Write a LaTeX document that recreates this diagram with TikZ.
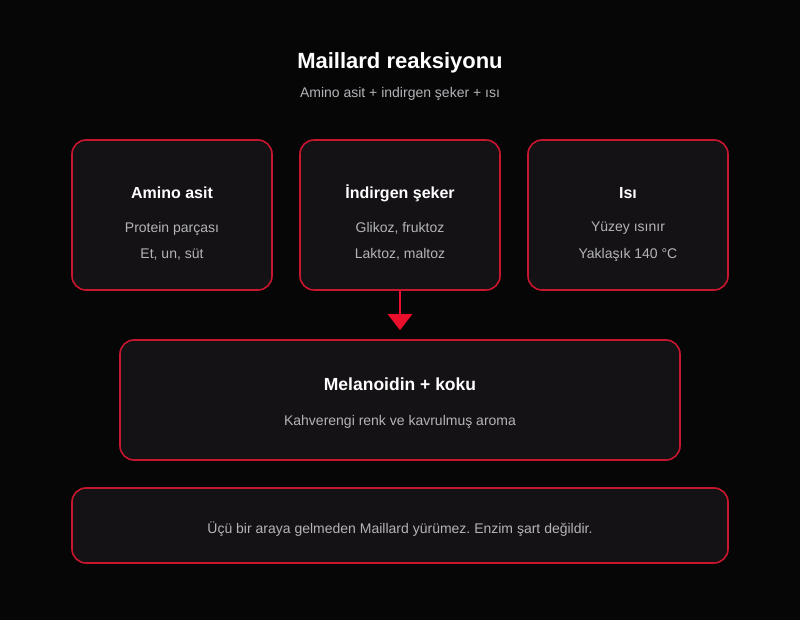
\documentclass[tikz,border=0pt]{standalone}
\usepackage{fontspec}
\setmainfont{Liberation Sans}
\usetikzlibrary{positioning, arrows.meta}
\frenchspacing
\definecolor{bgdark}{HTML}{060607}
\definecolor{boxfill}{HTML}{151215}
\definecolor{boxred}{HTML}{C8162E}
\definecolor{arrowred}{HTML}{EC0F2B}
\definecolor{softgray}{HTML}{B4B4B8}
\tikzstyle{card} = [rectangle, rounded corners=14pt, draw=boxred, line width=1.6pt, fill=boxfill, inner sep=0pt]
\tikzstyle{heading} = [text=white, font=\bfseries\fontsize{16}{19}\selectfont]
\tikzstyle{detail} = [text=softgray, font=\fontsize{14}{17}\selectfont]
\tikzstyle{arrow} = [line width=2.4pt, draw=arrowred, -{Triangle[length=16pt,width=24pt,fill=arrowred]}]

\begin{document}
\begin{tikzpicture}[x=1pt, y=-1pt]

\fill[bgdark] (0,0) rectangle (800,620);
\useasboundingbox (0,0) rectangle (800,620);

\node (title) [text=white, font=\bfseries\fontsize{22}{26}\selectfont] at (400,63) {Maillard reaksiyonu};
\node (subtitle) [detail] at (400,94) {Amino asit + indirgen şeker + ısı};

\node (amino) [card, minimum width=200pt, minimum height=150pt] at (172,215) {};
\node (sugar) [card, minimum width=200pt, minimum height=150pt] at (400,215) {};
\node (heat) [card, minimum width=200pt, minimum height=150pt] at (628,215) {};
\node (result) [card, minimum width=560pt, minimum height=120pt] at (400,400) {};
\node (note) [card, minimum width=656pt, minimum height=75pt] at (400,525.5) {};

\node (aminoT) [heading] at (172,193) {Amino asit};
\node (aminoA) [detail] at (172,228.5) {Protein parçası};
\node (aminoB) [detail] at (172,254.5) {Et, un, süt};

\node (sugarT) [heading] at (400,193) {İndirgen şeker};
\node (sugarA) [detail] at (400,228.5) {Glikoz, fruktoz};
\node (sugarB) [detail] at (400,254.5) {Laktoz, maltoz};

\node (heatT) [heading] at (628,193) {Isı};
\node (heatA) [detail] at (628,228.5) {Yüzey ısınır};
\node (heatB) [detail] at (628,254.5) {Yaklaşık 140 °C};

\node (resultT) [heading, font=\bfseries\fontsize{17.5}{21}\selectfont] at (400,384) {Melanoidin + koku};
\node (resultA) [detail] at (400,422) {Kahverengi renk ve kavrulmuş aroma};

\node (noteA) [detail] at (400,529) {Üçü bir araya gelmeden Maillard yürümez. Enzim şart değildir.};

\draw [arrow, shorten >=9pt] (sugar.south) -- (result.north);

\end{tikzpicture}
\end{document}
